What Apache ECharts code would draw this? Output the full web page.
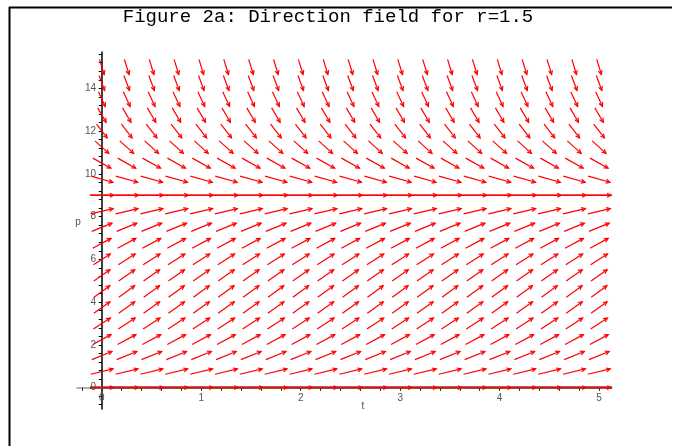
<!DOCTYPE html>
<html>
<head>
<meta charset="utf-8">
<script src="https://cdn.jsdelivr.net/npm/echarts@6/dist/echarts.min.js"></script>
<style>
html, body { margin: 0; padding: 0; background: #fff; }
#df { width: 681px; height: 446px; }
</style>
</head>
<body>
<div id="df"></div>
<script>
// grid of the direction field
let tCols = [0, 0.25, 0.5, 0.75, 1, 1.25, 1.5, 1.75, 2, 2.25, 2.5, 2.75, 3, 3.25, 3.5, 3.75, 4, 4.25, 4.5, 4.75, 5];
let pRows = [0, 0.75, 1.5, 2.25, 3, 3.75, 4.5, 5.25, 6, 6.75, 7.5, 8.25, 9, 9.75, 10.5, 11.25, 12, 12.75, 13.5, 14.25, 15];
// dp/dt
let slopes = [0, 1.1, 1.9, 2.5, 3.0, 3.3, 3.4, 3.3, 3.0, 2.5, 1.9, 1.1, 0, -1.3, -2.6, -4.2, -6.0, -7.9, -10, -12.5, -15];
// solution curves drawn across the plot
let equilibria = [9, 0];
let curveSpan = [-0.12, 5.13];

let xTickLabels = [0, 1, 2, 3, 4, 5];
let yTickLabels = [0, 2, 4, 6, 8, 10, 12, 14];

let xTicks = [], yTicks = [];
for (let i = -1; i <= 25; i++) xTicks.push(+(i * 0.2).toFixed(2));
for (let i = -2; i <= 39; i++) yTicks.push(+(i * 0.4).toFixed(2));

let arrowData = [];
pRows.forEach(function (p, j) {
	tCols.forEach(function (t) {
		arrowData.push([t, p, slopes[j]]);
	});
});

function renderArrow(params, api) {
	let c = api.coord([api.value(0), api.value(1)]);
	let cell = api.size([0.25, 0.75]);
	let u = 1, v = api.value(2) / 3;
	let n = Math.sqrt(u * u + v * v);
	let half = 0.48;
	let dx = u / n * cell[0] * half, dy = -v / n * cell[1] * half;
	let x1 = c[0] - dx, y1 = c[1] - dy, x2 = c[0] + dx, y2 = c[1] + dy;
	let ang = Math.atan2(y2 - y1, x2 - x1);
	let h = 4.5, a = 0.45;
	let style = { stroke: '#ff0000', lineWidth: 1.2, fill: null };
	return {
		type: 'group',
		children: [
			{ type: 'line', shape: { x1: x1, y1: y1, x2: x2, y2: y2 }, style: style },
			{
				type: 'polyline',
				shape: {
					points: [
						[x2 - h * Math.cos(ang - a), y2 - h * Math.sin(ang - a)],
						[x2, y2],
						[x2 - h * Math.cos(ang + a), y2 - h * Math.sin(ang + a)]
					]
				},
				style: style
			}
		]
	};
}

let labelFont = { fontFamily: '"Liberation Sans", Arial, sans-serif', fontSize: 10, color: '#555' };

function xAxisDef(inside, withLine) {
	return {
		type: 'value', min: -0.25, max: 5.13,
		axisLine: { show: withLine, onZero: true, lineStyle: { color: '#999', width: 1.5 } },
		axisTick: { show: true, inside: inside, length: 3, customValues: xTicks, lineStyle: { color: '#222' } },
		axisLabel: withLine ? Object.assign({ show: true, margin: -16, customValues: xTickLabels }, labelFont) : { show: false },
		splitLine: { show: false }
	};
}
function yAxisDef(inside, withLine) {
	return {
		type: 'value', min: -1, max: 15.7,
		axisLine: { show: withLine, onZero: true, lineStyle: { color: '#000', width: 1.5 } },
		axisTick: { show: true, inside: inside, length: 3, customValues: yTicks, lineStyle: { color: '#000' } },
		axisLabel: withLine ? Object.assign({ show: true, margin: -19, customValues: yTickLabels }, labelFont) : { show: false },
		splitLine: { show: false }
	};
}

let dfDom = document.getElementById('df');
let dfChart = echarts.init(dfDom);
let dfOption = {
	animation: false,
	backgroundColor: '#fff',
	grid: { left: 77, top: 52, width: 535, height: 357 },
	xAxis: [xAxisDef(false, true), xAxisDef(true, false)],
	yAxis: [yAxisDef(false, true), yAxisDef(true, false)],
	graphic: [
		{ type: 'line', shape: { x1: 9, y1: 7.5, x2: 672, y2: 7.5 }, style: { stroke: '#000', lineWidth: 2 } },
		{ type: 'line', shape: { x1: 9.5, y1: 7, x2: 9.5, y2: 446 }, style: { stroke: '#000', lineWidth: 2 } },
		{
			type: 'text', x: 328, y: 17,
			style: {
				text: 'Figure 2a: Direction field for r=1.5',
				font: '19px "Liberation Mono", "Courier New", monospace',
				fill: '#000', textAlign: 'center', textVerticalAlign: 'middle'
			}
		},
		{ type: 'text', x: 363, y: 406, style: { text: 't', font: '10px "Liberation Sans", Arial', fill: '#555', textAlign: 'center', textVerticalAlign: 'middle' } },
		{ type: 'text', x: 78, y: 222, style: { text: 'p', font: '10px "Liberation Sans", Arial', fill: '#555', textAlign: 'center', textVerticalAlign: 'middle' } }
	],
	series: [
		{
			type: 'line',
			data: [[curveSpan[0], equilibria[0]], [curveSpan[1], equilibria[0]]],
			symbol: 'none', silent: true, z: 3,
			lineStyle: { color: '#ff0000', width: 1.5 }
		},
		{
			type: 'line',
			data: [[curveSpan[0], equilibria[1]], [curveSpan[1], equilibria[1]]],
			symbol: 'none', silent: true, z: 3,
			lineStyle: { color: '#8a3a3a', width: 2.5 }
		},
		{
			type: 'custom',
			renderItem: renderArrow,
			data: arrowData,
			silent: true, z: 4
		}
	]
};
dfOption && dfChart.setOption(dfOption);
</script>
</body>
</html>
